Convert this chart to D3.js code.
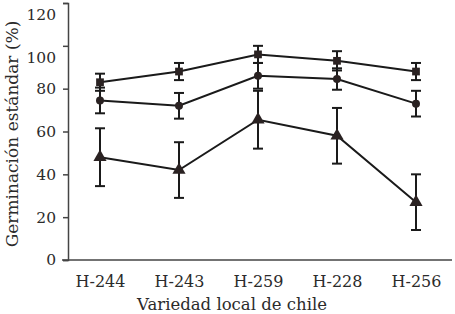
<!DOCTYPE html>
<html>
<head>
<meta charset="utf-8">
<script src="https://cdn.jsdelivr.net/npm/d3@7"></script>
<style>
  body { margin: 0; background: #fff; }
  svg text { font-family: "DejaVu Serif", "Liberation Serif", serif; fill: #2b2b2b; }
</style>
</head>
<body>
<svg width="455" height="314"></svg>
<script>
'use strict';

// data
var varieties = ["H-244", "H-243", "H-259", "H-228", "H-256"];
var squareMean = [83, 88, 96, 93, 88];
var squareErr = [4, 4, 4, 4.5, 4];
var circleMean = [74.5, 72, 86, 84.5, 73];
var circleErr = [6, 6, 6, 5, 6];
var triMean = [48, 42, 65.5, 58, 27];
var triErr = [13.5, 13, 13.5, 13, 13];
var yTicks = [0, 20, 40, 60, 80, 100, 120];

var series = [
  {mean: squareMean, err: squareErr, shape: d3.symbolSquare, size: 60},
  {mean: circleMean, err: circleErr, shape: d3.symbolCircle, size: 50},
  {mean: triMean, err: triErr, shape: d3.symbolTriangle, size: 75}
];

var svg = d3.select("svg");
var margin = {top: 3, left: 68};

var x = d3.scalePoint().domain(varieties).range([100, 416]);
var y = d3.scaleLinear().domain([0, 120]).range([260, 3]);

// axes
var yAxis = d3.axisLeft(y).tickValues(yTicks).tickSize(5).tickPadding(7);
var gy = svg.append("g")
  .attr("transform", "translate(" + margin.left + ",0)")
  .call(yAxis);
gy.select(".domain").attr("stroke", "#444").attr("stroke-width", 1.5);
gy.selectAll(".tick line").attr("stroke", "#444").attr("stroke-width", 1.5);
gy.selectAll(".tick text")
  .style("font-size", "15.5px")
  .attr("dy", function(d) { return d >= 100 ? "1.05em" : "0.32em"; }); // top labels sit lower in the original

svg.append("line")
  .attr("x1", 62).attr("x2", 452)
  .attr("y1", y(0)).attr("y2", y(0))
  .attr("stroke", "#444").attr("stroke-width", 1.5);

var xAxis = d3.axisBottom(x).tickSize(0).tickPadding(16);
var gx = svg.append("g")
  .attr("transform", "translate(0," + y(0) + ")")
  .call(xAxis);
gx.select(".domain").remove();
gx.selectAll(".tick text").style("font-size", "16px");

svg.append("text")
  .attr("x", 232).attr("y", 310)
  .attr("text-anchor", "middle")
  .style("font-size", "16.5px")
  .text("Variedad local de chile");

svg.append("text")
  .attr("transform", "translate(18,134) rotate(-90)")
  .attr("text-anchor", "middle")
  .style("font-size", "17px")
  .text("Germinación estándar (%)");

// series
var line = d3.line()
  .x(function(d, i) { return x(varieties[i]); })
  .y(function(d) { return y(d); });

series.forEach(function(s) {
  var g = svg.append("g");
  g.append("path")
    .datum(s.mean)
    .attr("d", line)
    .attr("fill", "none")
    .attr("stroke", "#1a1a1a")
    .attr("stroke-width", 2);

  var bars = g.selectAll(".err")
    .data(s.mean)
    .enter().append("g")
    .attr("class", "err");
  bars.append("line")
    .attr("x1", function(d, i) { return x(varieties[i]); })
    .attr("x2", function(d, i) { return x(varieties[i]); })
    .attr("y1", function(d, i) { return y(d + s.err[i]); })
    .attr("y2", function(d, i) { return y(d - s.err[i]); })
    .attr("stroke", "#1a1a1a").attr("stroke-width", 2);
  [1, -1].forEach(function(sign) {
    bars.append("line")
      .attr("x1", function(d, i) { return x(varieties[i]) - 5; })
      .attr("x2", function(d, i) { return x(varieties[i]) + 5; })
      .attr("y1", function(d, i) { return y(d + sign * s.err[i]); })
      .attr("y2", function(d, i) { return y(d + sign * s.err[i]); })
      .attr("stroke", "#1a1a1a").attr("stroke-width", 2);
  });

  g.selectAll(".mark")
    .data(s.mean)
    .enter().append("path")
    .attr("class", "mark")
    .attr("d", d3.symbol().type(s.shape).size(s.size))
    .attr("transform", function(d, i) { return "translate(" + x(varieties[i]) + "," + y(d) + ")"; })
    .attr("fill", "#2a2222");
});
</script>
</body>
</html>
